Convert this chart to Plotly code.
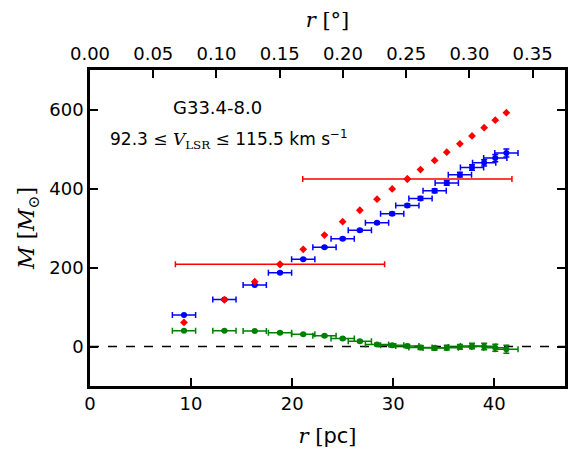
import plotly.graph_objects as go
import numpy as np

# radius (pc) for each contour level
r_pc = [9.3, 13.3, 16.3, 18.8, 21.1, 23.2, 25.0, 26.7, 28.4, 29.9, 31.4,
        32.7, 34.1, 35.3, 36.6, 37.8, 39.0, 40.1, 41.2]
# red: virial-like mass estimates
m_red = [61, 118, 164, 208, 246, 282, 316, 345, 373, 399, 424,
         448, 471, 492, 513, 533, 554, 573, 592]
red_err_idx = [3, 10]
red_xerr = [10.35, 10.35]
# blue: enclosed mass
m_blue = [80, 119, 156, 187, 221, 251, 273, 294, 313, 336, 357,
          375, 394, 414, 435, 453, 465, 477, 490]
blue_yerr = [1, 1, 1, 2, 2, 2, 3, 3, 3, 4, 4, 5, 5, 6, 6, 7, 8, 9, 10]
# green: difference
m_green = [40, 40, 39, 35, 31, 27, 20, 13, 5, 3, 1,
           -2.5, -4, -3, -1, 1, 0, -3, -7]
green_yerr = [1, 1, 1, 2, 2, 2, 3, 3, 3, 4, 4, 5, 5, 6, 6, 7, 8, 9, 10]
xerr_pc = 1.15

DIST_PC = 7170.0
X_RANGE = [0, 47]
Y_RANGE = [-100, 700]
y_ticks = [0, 200, 400, 600]
x_ticks = [0, 10, 20, 30, 40]
deg_ticks = [0.00, 0.05, 0.10, 0.15, 0.20, 0.25, 0.30, 0.35]
deg_range = [np.degrees(v / DIST_PC) for v in X_RANGE]

BLUE = "#0000ff"
GREEN = "#008000"
RED = "#ff0000"
FONT = "DejaVu Sans"
SERIF = "DejaVu Serif"

fig = go.Figure()

fig.add_trace(go.Scatter(
    x=r_pc, y=m_green, mode="markers",
    marker=dict(color=GREEN, size=6, symbol="circle"),
    error_x=dict(type="constant", value=xerr_pc, color=GREEN, thickness=1.5, width=3),
    error_y=dict(type="data", array=green_yerr, color=GREEN, thickness=1.5, width=3),
    showlegend=False))

fig.add_trace(go.Scatter(
    x=r_pc, y=m_blue, mode="markers",
    marker=dict(color=BLUE, size=6, symbol="circle"),
    error_x=dict(type="constant", value=xerr_pc, color=BLUE, thickness=1.5, width=3),
    error_y=dict(type="data", array=blue_yerr, color=BLUE, thickness=1.5, width=3),
    showlegend=False))

fig.add_trace(go.Scatter(
    x=[r_pc[i] for i in red_err_idx], y=[m_red[i] for i in red_err_idx],
    mode="markers", marker=dict(color=RED, size=6, symbol="diamond"),
    error_x=dict(type="data", array=red_xerr, color=RED, thickness=1.5, width=3),
    showlegend=False))

fig.add_trace(go.Scatter(
    x=r_pc, y=m_red, mode="markers",
    marker=dict(color=RED, size=6, symbol="diamond"),
    showlegend=False))

# invisible trace to drive top (degree) axis
fig.add_trace(go.Scatter(
    x=deg_range, y=[0, 0], xaxis="x2", mode="markers",
    marker=dict(opacity=0), hoverinfo="skip", showlegend=False))

fig.add_shape(type="line", xref="paper", yref="y", x0=0, x1=1, y0=0, y1=0,
              line=dict(color="black", width=1.5, dash="dash"), layer="below")

fig.add_annotation(x=12.6, y=604, xref="x", yref="y", showarrow=False,
                   text="G33.4-8.0", font=dict(family=FONT, size=18, color="black"))
fig.add_annotation(x=1.8, y=524, xref="x", yref="y", showarrow=False, xanchor="left",
                   text="92.3 <span style='font-family:DejaVu Serif'>≤ <i>V</i><sub>LSR</sub> ≤</span> 115.5 km s<sup>−1</sup>",
                   font=dict(family=FONT, size=17, color="black"))

axis_common = dict(showgrid=False, zeroline=False, showline=True, linecolor="black",
                   linewidth=2.5, ticks="inside", ticklen=8, tickwidth=1.5,
                   tickcolor="black", automargin=False,
                   tickfont=dict(family=FONT, size=18, color="black"))

# page body has an 8px default margin, so the figure is sized to fit the window
fig.update_layout(
    width=573, height=446,
    margin=dict(l=82, r=16, t=62, b=68),
    paper_bgcolor="white", plot_bgcolor="white",
    xaxis=dict(range=X_RANGE, tickvals=x_ticks, mirror=False,
               title=dict(text="<span style='font-family:DejaVu Serif'><i>r</i> [</span>pc<span style='font-family:DejaVu Serif'>]</span>",
                          font=dict(family=FONT, size=21, color="black"), standoff=15),
               **axis_common),
    xaxis2=dict(range=deg_range, overlaying="x", side="top", tickvals=deg_ticks,
                tickformat=".2f",
                title=dict(text="<i>r</i> [°]", font=dict(family=SERIF, size=21, color="black"), standoff=15),
                **axis_common),
    yaxis=dict(range=Y_RANGE, tickvals=y_ticks, mirror="ticks",
               title=dict(text="<i>M</i> [<i>M</i><sub>⊙</sub>]",
                          font=dict(family=SERIF, size=22, color="black"), standoff=9),
               **axis_common),
)

fig.write_html("out.html")
